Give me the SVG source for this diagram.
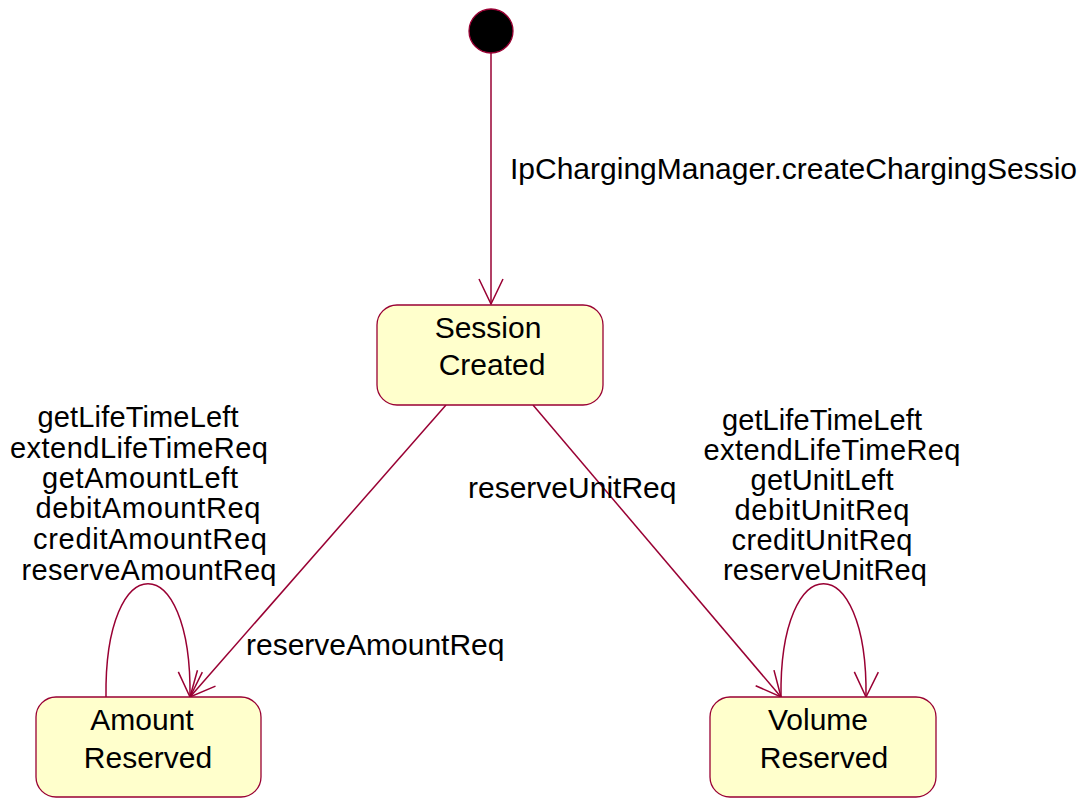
<svg xmlns="http://www.w3.org/2000/svg" width="1092" height="798" viewBox="0 0 1092 798">
<style>
.state{fill:#FFFFCC;stroke:#990033;stroke-width:1.3}
.conn{fill:none;stroke:#990033;stroke-width:1.5}
text{font-family:"Liberation Sans",Arial,sans-serif;font-size:30px;fill:#000}
.c{text-anchor:middle}
.s{font-size:29px}
</style>
<defs>
<marker id="open" markerUnits="userSpaceOnUse" markerWidth="30" markerHeight="30" viewBox="0 0 30 30" refX="26" refY="13" orient="auto">
<path d="M1,1 L26,13 L1,25" fill="none" stroke="#990033" stroke-width="1.5"/>
</marker>
</defs>
<rect width="1092" height="798" fill="#fff"/>
<g id="connectors">
<line class="conn" x1="491" y1="53" x2="491" y2="304" marker-end="url(#open)"/>
<line class="conn" x1="446" y1="405" x2="190" y2="697" marker-end="url(#open)"/>
<line class="conn" x1="533" y1="405" x2="781" y2="697" marker-end="url(#open)"/>
<path class="conn" d="M106,697 C104,546 192,546 190,697" marker-end="url(#open)"/>
<path class="conn" d="M781,697 C779,546 868,546 866,697" marker-end="url(#open)"/>
</g>
<g id="labels">
<text x="510" y="179">IpChargingManager.createChargingSessio</text>
<text x="468" y="498">reserveUnitReq</text>
<text x="246" y="655">reserveAmountReq</text>
<text class="c s" x="138" y="427" textLength="201">getLifeTimeLeft</text>
<text class="c s" x="139" y="458" textLength="258">extendLifeTimeReq</text>
<text class="c s" x="140" y="488" textLength="196">getAmountLeft</text>
<text class="c s" x="148" y="518" textLength="225">debitAmountReq</text>
<text class="c s" x="150" y="549" textLength="234">creditAmountReq</text>
<text class="c s" x="149" y="580" textLength="255">reserveAmountReq</text>
<text class="c s" x="822" y="430" textLength="200">getLifeTimeLeft</text>
<text class="c s" x="832" y="460" textLength="257">extendLifeTimeReq</text>
<text class="c s" x="822" y="490" textLength="143">getUnitLeft</text>
<text class="c s" x="822" y="520" textLength="175">debitUnitReq</text>
<text class="c s" x="822" y="550" textLength="181">creditUnitReq</text>
<text class="c s" x="825" y="580" textLength="204">reserveUnitReq</text>
</g>
<g id="initial">
<circle cx="491" cy="31" r="22" fill="#000" stroke="#990033" stroke-width="1.3"/>
</g>
<g id="session-created">
<rect class="state" x="377" y="305" width="226" height="100" rx="20"/>
<text class="c" x="488" y="338">Session</text>
<text class="c" x="492" y="375">Created</text>
</g>
<g id="amount-reserved">
<rect class="state" x="36" y="697" width="225" height="100" rx="20"/>
<text class="c" x="142" y="730">Amount</text>
<text class="c" x="148" y="768">Reserved</text>
</g>
<g id="volume-reserved">
<rect class="state" x="710" y="697" width="226" height="100" rx="20"/>
<text class="c" x="818" y="730">Volume</text>
<text class="c" x="824" y="768">Reserved</text>
</g>
</svg>
